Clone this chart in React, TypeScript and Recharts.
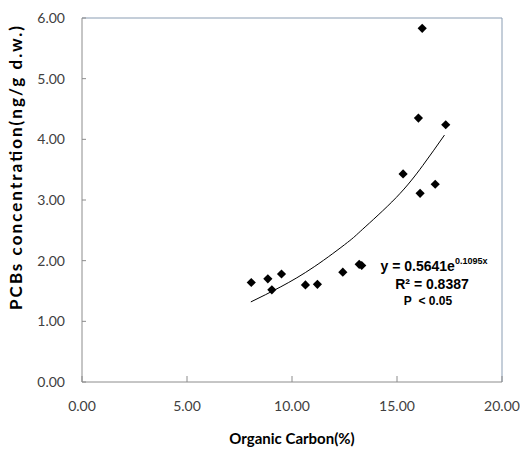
import {
  ScatterChart,
  Scatter,
  XAxis,
  YAxis,
  ReferenceLine,
} from 'recharts';

// ---------------------------------------------------------------------------
// Data
// ---------------------------------------------------------------------------

const organicCarbon = [8.06, 8.85, 9.04, 9.5, 10.64, 11.21, 12.42, 13.2, 13.32, 15.29, 16.02, 16.1, 16.2, 16.82, 17.32];
const pcbConc = [1.64, 1.7, 1.52, 1.78, 1.6, 1.61, 1.81, 1.94, 1.92, 3.43, 4.35, 3.11, 5.83, 3.26, 4.24];

// exponential trend line as drawn in the source
const trendX = [8.04, 9.47, 11.06, 12.64, 13.37, 14.96, 16.23, 17.26];
const trendY = [1.32, 1.57, 1.9, 2.3, 2.52, 3.04, 3.57, 4.07];

const xTicks = [0, 5, 10, 15, 20];
const yTicks = [0, 1, 2, 3, 4, 5, 6];

const points = organicCarbon.map((x, i) => ({ x, y: pcbConc[i] }));
const trend = trendX.map((x, i) => ({ x, y: trendY[i] }));

// ---------------------------------------------------------------------------
// Styles
// ---------------------------------------------------------------------------

const AXIS_GREY = '#8c8c8c';
const BORDER_BLUE = '#8a9db3';
const TICK_FONT = { fill: '#404040', fontSize: 14, fontFamily: 'Lato, "Open Sans", sans-serif' };
const TITLE_FONT = 'Lato, "Open Sans", sans-serif';

function Diamond(props: any) {
  const { cx, cy } = props;
  if (cx == null || cy == null) return <g />;
  const r = 4.6;
  return (
    <path
      d={`M${cx},${cy - r}L${cx + r},${cy}L${cx},${cy + r}L${cx - r},${cy}Z`}
      fill="#000"
    />
  );
}

function NoDot() {
  return <g />;
}

function YTitle() {
  return (
    <text
      x={15}
      y={168}
      transform="rotate(-90 15 168)"
      textAnchor="middle"
      dominantBaseline="central"
      fontFamily={TITLE_FONT}
      fontWeight="bold"
      fontSize={17}
      textLength={284}
      lengthAdjust="spacing"
      fill="#000"
    >
      PCBs concentration(ng/g d.w.)
    </text>
  );
}

export default function App() {
  return (
    <div style={{ position: 'absolute', left: 0, top: 0, width: 520, height: 452, background: '#fff' }}>
      <ScatterChart width={520} height={452} margin={{ top: 18, right: 18, bottom: 0, left: 0 }}>
        <XAxis
          type="number"
          dataKey="x"
          domain={[0, 20]}
          ticks={xTicks}
          tickFormatter={(v: number) => v.toFixed(2)}
          height={70}
          tick={TICK_FONT}
          axisLine={{ stroke: AXIS_GREY }}
          tickLine={{ stroke: AXIS_GREY }}
          tickSize={-6}
          tickMargin={25}
          interval={0}
          label={{
            value: 'Organic Carbon(%)',
            position: 'insideBottom',
            offset: 8,
            style: { fontFamily: TITLE_FONT, fontWeight: 'bold', fontSize: 15, fill: '#000' },
          }}
        />
        <YAxis
          type="number"
          dataKey="y"
          domain={[0, 6]}
          ticks={yTicks}
          tickFormatter={(v: number) => v.toFixed(2)}
          width={82}
          tick={TICK_FONT}
          axisLine={{ stroke: AXIS_GREY }}
          tickLine={{ stroke: AXIS_GREY }}
          tickSize={-4}
          tickMargin={21}
          interval={0}
          label={<YTitle />}
        />

        {/* plot-area border on top and right */}
        <ReferenceLine y={6} stroke={BORDER_BLUE} strokeWidth={1} />
        <ReferenceLine x={20} stroke={BORDER_BLUE} strokeWidth={1} />

        <Scatter
          data={trend}
          line={{ stroke: '#000', strokeWidth: 1 }}
          lineJointType="natural"
          shape={<NoDot />}
          isAnimationActive={false}
        />
        <Scatter data={points} shape={<Diamond />} isAnimationActive={false} />
      </ScatterChart>

      {/* trend equation annotation */}
      <div
        style={{
          position: 'absolute',
          left: 376,
          top: 258,
          width: 116,
          textAlign: 'center',
          fontFamily: '"Liberation Sans", Arial, sans-serif',
          fontWeight: 'bold',
          color: '#000',
          lineHeight: '17.5px',
        }}
      >
        <div style={{ fontSize: 14 }}>
          y = 0.5641e<sup style={{ fontSize: 9, verticalAlign: 'top', lineHeight: '9px', position: 'relative', top: -1 }}>0.1095x</sup>
        </div>
        <div style={{ fontSize: 14, position: 'relative', left: -2 }}>R² = 0.8387</div>
        <div style={{ fontSize: 12, position: 'relative', left: -6 }}>
          P&nbsp; &lt; 0.05
        </div>
      </div>
    </div>
  );
}
